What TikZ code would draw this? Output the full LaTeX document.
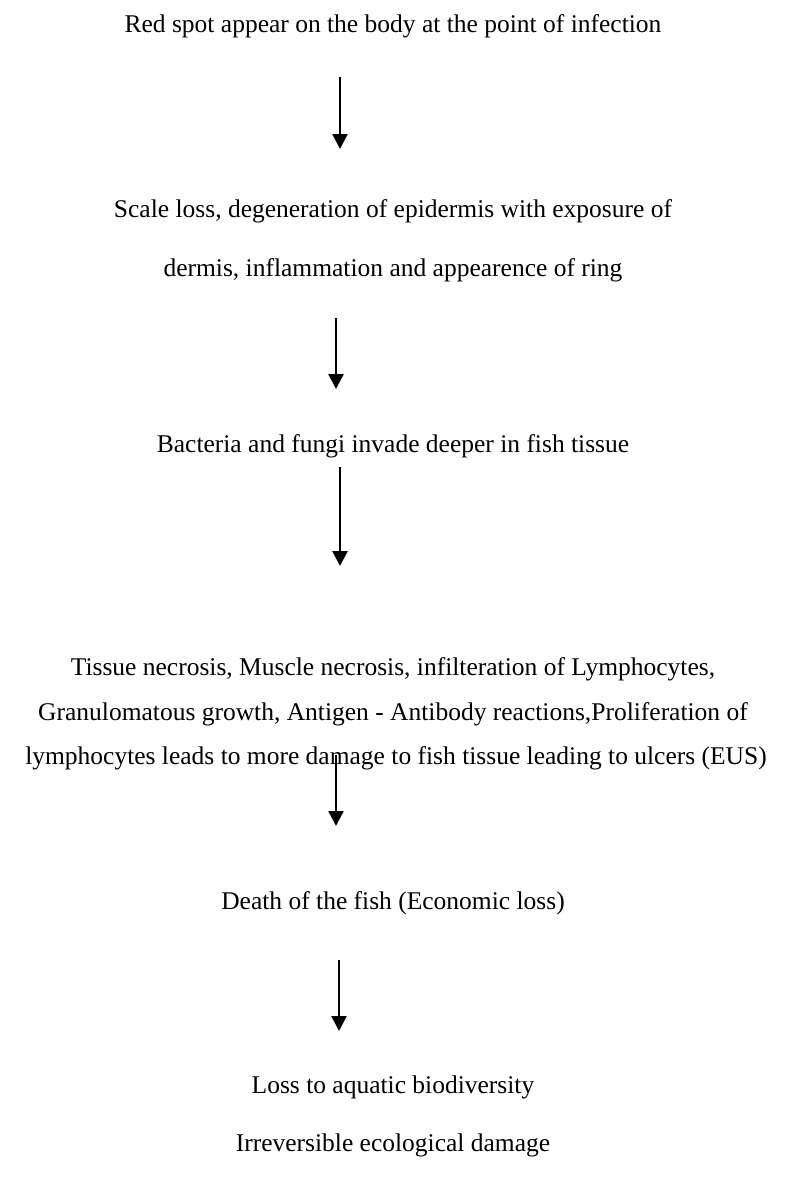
\documentclass[tikz,border=0pt]{standalone}
\usepackage{fontspec}
\setmainfont{Liberation Serif}
\usetikzlibrary{arrows.meta}
\tikzset{
  lbl/.style={inner sep=0pt, anchor=center, font=\fontsize{25.5}{25.5}\selectfont},
  arr/.style={line width=2.4pt, -{Triangle[length=15pt,width=15pt]}}
}
\begin{document}
\begin{tikzpicture}[x=1pt,y=-1pt]
\fill[white] (0,0) rectangle (787,1194);
\useasboundingbox (0,0) rectangle (787,1194);
\node[lbl] (t1) at (393,26) {Red spot appear on the body at the point of infection};
\node[lbl] (t2a) at (393,211) {Scale loss, degeneration of epidermis with exposure of};
\node[lbl] (t2b) at (393,270) {dermis, inflammation and appearence of ring};
\node[lbl] (t3) at (393,446) {Bacteria and fungi invade deeper in fish tissue};
\node[lbl] (t4a) at (393,669) {Tissue necrosis, Muscle necrosis, infilteration of Lymphocytes,};
\node[lbl] (t4b) at (393,714) {Granulomatous growth, Antigen - Antibody reactions,Proliferation of};
\node[lbl] (t4c) at (396,758) {lymphocytes leads to more damage to fish tissue leading to ulcers (EUS)};
\node[lbl] (t5) at (393,903) {Death of the fish (Economic loss)};
\node[lbl] (t6a) at (393,1087) {Loss to aquatic biodiversity};
\node[lbl] (t6b) at (393,1145) {Irreversible ecological damage};
\coordinate (a1s) at (340,77);  \coordinate (a1e) at (340,149);
\coordinate (a2s) at (336,318); \coordinate (a2e) at (336,389);
\coordinate (a3s) at (340,467); \coordinate (a3e) at (340,566);
\coordinate (a4s) at (336,755); \coordinate (a4e) at (336,826);
\coordinate (a5s) at (339,960); \coordinate (a5e) at (339,1031);
\draw[arr] (a1s) -- (a1e);
\draw[arr] (a2s) -- (a2e);
\draw[arr] (a3s) -- (a3e);
\draw[arr] (a4s) -- (a4e);
\draw[arr] (a5s) -- (a5e);
\end{tikzpicture}
\end{document}
